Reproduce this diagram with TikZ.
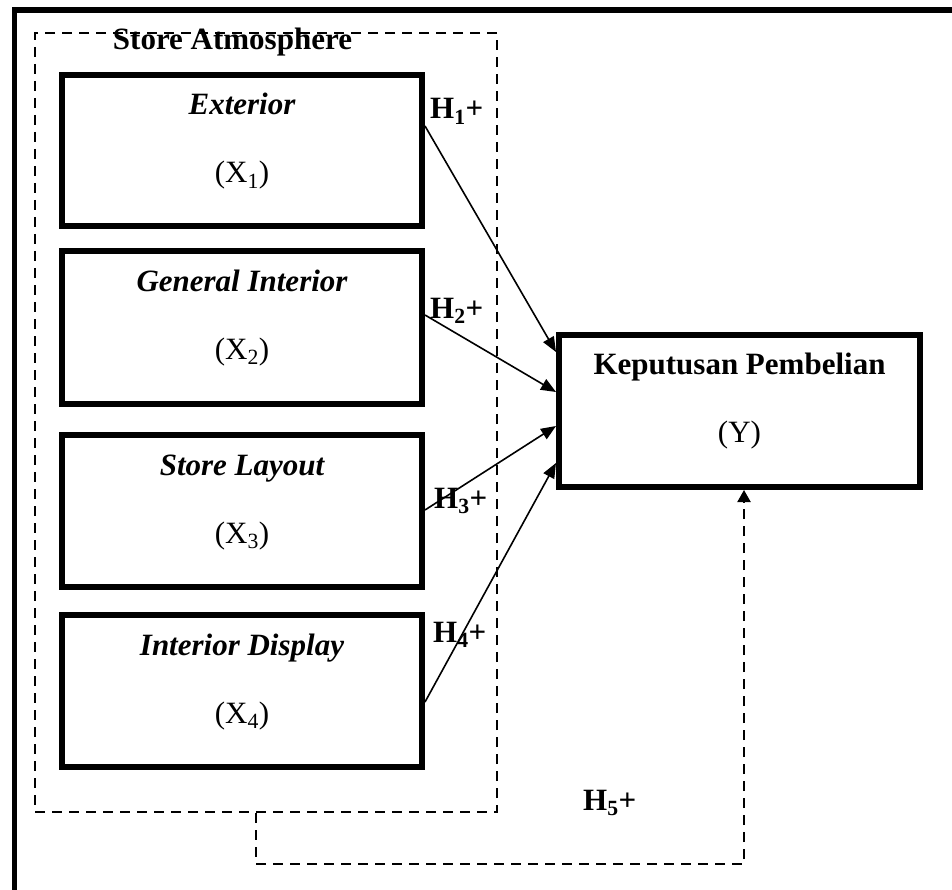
\documentclass[tikz,border=0pt]{standalone}
\usepackage{fontspec}
\setmainfont{Liberation Serif}
\usetikzlibrary{arrows.meta}

\begin{document}
\begin{tikzpicture}[x=1pt,y=-1pt,
  varbox/.style={draw, line width=6pt, minimum width=360pt, inner sep=0pt},
  boxtitle/.style={font=\fontsize{31}{37}\selectfont\bfseries\itshape, anchor=base, inner sep=0pt},
  boxcode/.style={font=\fontsize{31}{37}\selectfont, anchor=base, inner sep=0pt},
  hyp/.style={font=\fontsize{31}{37}\selectfont\bfseries, anchor=base west, inner sep=0pt},
  link/.style={line width=1.6pt, -{Triangle[length=15pt,width=12pt]}},
  dashline/.style={line width=2pt, dash pattern=on 10pt off 7pt}]

\useasboundingbox (0,0) rectangle (952,890);

% page frame (top and left edges only)
\draw[line width=5.5pt] (14.5,900) -- (14.5,10) -- (960,10);

% Store Atmosphere group
\node[draw, dashline, minimum width=462pt, minimum height=779pt, inner sep=0pt] (sa) at (266,422.5) {};
\node[font=\fontsize{31}{37}\selectfont\bfseries, anchor=base, inner sep=0pt] (saT) at (232.5,50) {Store Atmosphere};

% independent variables
\node[varbox, minimum height=151pt] (x1) at (242,150.5) {};
\node[boxtitle] (x1T) at (242,115) {Exterior};
\node[boxcode] (x1C) at (242,183) {(X\textsubscript{1})};

\node[varbox, minimum height=153pt] (x2) at (242,327.5) {};
\node[boxtitle] (x2T) at (242,291) {General Interior};
\node[boxcode] (x2C) at (242,359) {(X\textsubscript{2})};

\node[varbox, minimum height=152pt] (x3) at (242,511) {};
\node[boxtitle] (x3T) at (242,475) {Store Layout};
\node[boxcode] (x3C) at (242,543) {(X\textsubscript{3})};

\node[varbox, minimum height=152pt] (x4) at (242,691) {};
\node[boxtitle] (x4T) at (242,655) {Interior Display};
\node[boxcode] (x4C) at (242,723) {(X\textsubscript{4})};

% dependent variable
\node[varbox, minimum width=361pt, minimum height=152pt] (y) at (739.5,411) {};
\node[font=\fontsize{31}{37}\selectfont\bfseries, anchor=base, inner sep=0pt] (yT) at (739.5,374) {Keputusan Pembelian};
\node[boxcode] (yC) at (739.5,442) {(Y)};

% hypotheses
\draw[link] ([yshift=24.5pt]x1.east) -- ([yshift=59pt]y.west);
\draw[link] ([yshift=12.5pt]x2.east) -- ([yshift=19pt]y.west);
\draw[link] ([yshift=1pt]x3.east) -- ([yshift=-15pt]y.west);
\draw[link] ([yshift=-11pt]x4.east) -- ([yshift=-52pt]y.west);
\draw[dashline, -{Triangle[length=12pt,width=13pt]}]
  ([xshift=-10pt]sa.south) -- ++(0,51) -| ([xshift=4.5pt]y.south);

\node[hyp] (h1) at (430,119) {H\textsubscript{1}+};
\node[hyp] (h2) at (430,318) {H\textsubscript{2}+};
\node[hyp] (h3) at (434,508) {H\textsubscript{3}+};
\node[hyp] (h4) at (433,642) {H\textsubscript{4}+};
\node[hyp] (h5) at (583,810) {H\textsubscript{5}+};
\end{tikzpicture}
\end{document}
